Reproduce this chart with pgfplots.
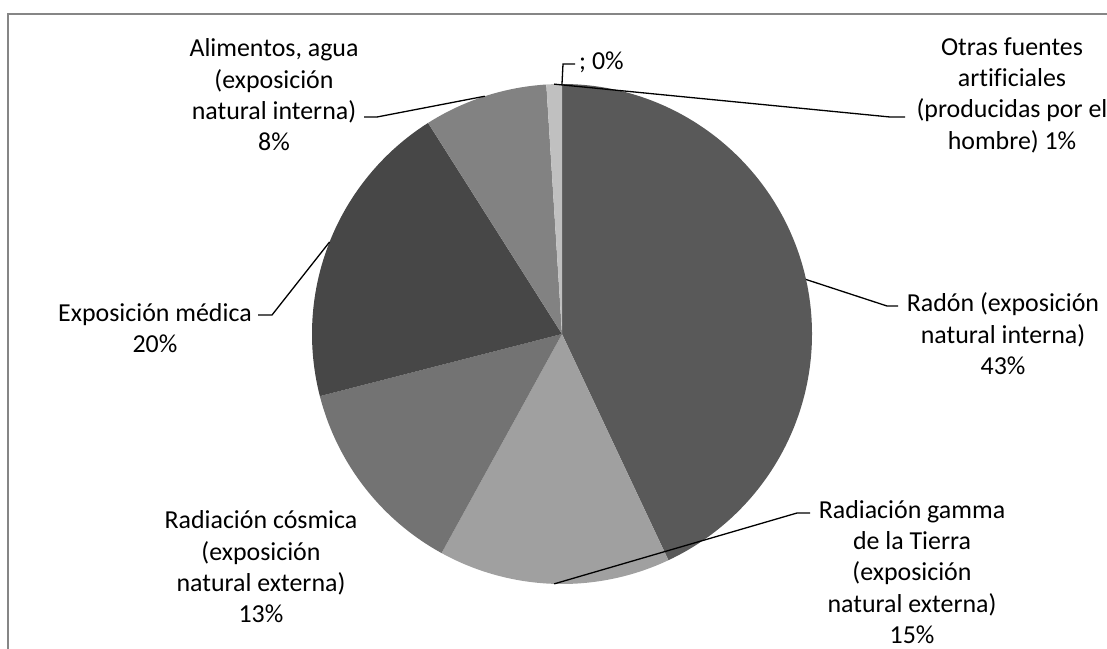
\documentclass[border=0pt]{standalone}
\usepackage{pgfplots}
\usepackage{pgfplotstable}
\usepackage{fontspec}
\setmainfont{Carlito}[Ligatures=NoCommon]
\pgfplotsset{compat=1.18}

% slice shades, in the order of the table rows
\definecolor{slice0}{HTML}{595959}
\definecolor{slice1}{HTML}{A0A0A0}
\definecolor{slice2}{HTML}{737373}
\definecolor{slice3}{HTML}{474747}
\definecolor{slice4}{HTML}{828282}
\definecolor{slice5}{HTML}{C0C0C0}
\definecolor{slice6}{HTML}{C0C0C0}
\definecolor{frame}{HTML}{868686}

% share of each source, in percent, clockwise from the top
\pgfplotstableread{
share
43
15
13
20
8
1
0
}\pietable

\newcommand\lbl{\fontsize{26}{31.5}\selectfont}
\newcommand\ang[2]{\csname pie#1#2\endcsname}

\begin{document}
\begin{tikzpicture}
% start, end and middle angle of every slice
\gdef\cum{0}
\foreach \i in {0,...,6}{
  \pgfplotstablegetelem{\i}{share}\of\pietable
  \let\s\pgfplotsretval
  \pgfmathsetmacro\a{90-3.6*\cum}
  \pgfmathsetmacro\b{90-3.6*(\cum+\s)}
  \pgfmathsetmacro\m{(\a+\b)/2}
  \pgfmathsetmacro\c{\cum+\s}
  \expandafter\xdef\csname pieA\i\endcsname{\a}
  \expandafter\xdef\csname pieB\i\endcsname{\b}
  \expandafter\xdef\csname pieM\i\endcsname{\m}
  \xdef\cum{\c}
}
\begin{axis}[
  hide axis,
  scale only axis,
  width=1107bp, height=649bp,
  xmin=0, xmax=1107, ymin=0, ymax=649,
  y dir=reverse,
  clip=false,
]
\def\cx{562}\def\cy{334}\def\R{250bp}
% chart frame
\draw[frame, line width=2bp] (axis cs:8,649) -- (axis cs:8,14) -- (axis cs:1107,14);
% slices
\pgfplotsinvokeforeach{0,...,5}{
  \fill[slice#1] (axis cs:\cx,\cy) -- ++(\ang{A}{#1}:\R)
    arc[start angle=\ang{A}{#1}, end angle=\ang{B}{#1}, radius=\R] -- cycle;
}
% leader lines from the middle of each slice's rim
\begin{scope}[black, line width=1.3bp]
\draw (axis cs:\cx,\cy) ++(\ang{M}{0}:\R) -- (axis cs:887,306) -- (axis cs:898,306);
\draw (axis cs:\cx,\cy) ++(\ang{M}{1}:\R) -- (axis cs:797,513) -- (axis cs:810,513);
\draw (axis cs:\cx,\cy) ++(\ang{M}{3}:\R) -- (axis cs:272,315) -- (axis cs:258,315);
\draw (axis cs:\cx,\cy) ++(\ang{M}{4}:\R) -- (axis cs:377,117) -- (axis cs:364,117);
\draw (axis cs:\cx,\cy) ++(\ang{M}{5}:\R) -- (axis cs:890,117) -- (axis cs:905,117);
\draw (axis cs:\cx,\cy) ++(\ang{M}{6}:\R) -- (axis cs:563,64) -- (axis cs:575,64);
\end{scope}
% data labels
\begin{scope}[every node/.style={align=center, font=\lbl, inner sep=0pt, text=black}]
\node at (axis cs:1003,334) {Radón (exposición\\natural interna)\\43\%};
\node at (axis cs:912,572) {Radiación gamma\\de la Tierra\\(exposición\\natural externa)\\15\%};
\node at (axis cs:261,567) {Radiación cósmica\\(exposición\\natural externa)\\13\%};
\node at (axis cs:155,328) {Exposición médica\\20\%};
\node at (axis cs:274,95) {Alimentos, agua\\(exposición\\natural interna)\\8\%};
\node at (axis cs:1012,95) {Otras fuentes\\artificiales\\(producidas por el\\hombre) 1\%};
\node[anchor=west] at (axis cs:579,62) {; 0\%};
\end{scope}
\end{axis}
% the page is the chart area
\pgfresetboundingbox
\path[use as bounding box] (current axis.south west) rectangle (current axis.north east);
\end{tikzpicture}
\end{document}
